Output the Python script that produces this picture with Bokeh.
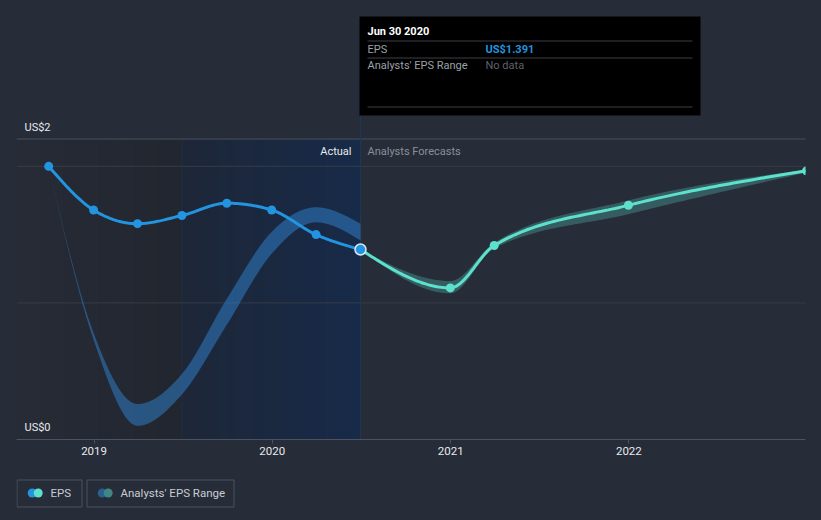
import numpy as np
import pandas as pd
from bokeh.plotting import figure
from bokeh.layouts import column
from bokeh.models import Range1d, FixedTicker, DatetimeTickFormatter
from bokeh.core.properties import value
from bokeh.embed import file_html
from bokeh.resources import INLINE

# ---------------- data ----------------
actual_dates = ["2018-09-30", "2018-12-31", "2019-03-31", "2019-06-30",
                "2019-09-30", "2019-12-31", "2020-03-31", "2020-06-30"]
actual_eps = [2.00, 1.68, 1.58, 1.64, 1.73, 1.68, 1.50, 1.391]
past_range_low = [2.00, 0.73, 0.10, 0.33, 0.84, 1.36, 1.59, 1.457]
past_range_high = [2.00, 0.78, 0.26, 0.48, 1.03, 1.52, 1.70, 1.58]

forecast_dates = ["2020-06-30", "2020-12-31", "2021-03-31", "2021-12-31", "2022-12-31"]
forecast_eps = [1.391, 1.11, 1.42, 1.715, 1.967]
forecast_low = [1.391, 1.07, 1.40, 1.65, 1.955]
forecast_high = [1.391, 1.16, 1.44, 1.75, 1.975]

year_ticks = ["2019-01-01", "2020-01-01", "2021-01-01", "2022-01-01"]
y_label_values = [0, 2]
y_label_texts = ["US$0", "US$2"]
grid_values = [1.0, 2.0]
top_line_value = 2.2

x_start, x_end = "2018-07-26", "2022-12-29"
past_split = "2019-06-30"
last_actual = "2020-06-30"

# ---------------- style ----------------
BG = "#262c38"
BLUE = "#2394df"
TEAL = "#5de0cc"
FONT = "Roboto"
FS = "11px"
W, H_MAIN, H_LEG = 821, 472, 48
FL, FR, FB = 16, 16, 33
FW = W - FL - FR
FH = H_MAIN - FB
Y_TOP = 3.214
BG_STYLE = {"background-color": BG}


def ms(d):
    if isinstance(d, str):
        return pd.Timestamp(d).value / 1e6
    return np.array([pd.Timestamp(v).value / 1e6 for v in d])


X0, X1 = ms(x_start), ms(x_end)
PX_MS = (X1 - X0) / FW  # one screen pixel in ms


def px_x(px):
    return X0 + (px - FL) / FW * (X1 - X0)


def px_y(py):
    return (FH - py) / FH * Y_TOP


def monotone(xs, ys, n=40):
    xs = np.asarray(xs, float)
    ys = np.asarray(ys, float)
    h = np.diff(xs)
    s = np.diff(ys) / h
    m = np.zeros(len(xs))
    for i in range(1, len(xs) - 1):
        s0, s1 = s[i - 1], s[i]
        p_ = (s0 * h[i] + s1 * h[i - 1]) / (h[i - 1] + h[i])
        m[i] = (np.sign(s0) + np.sign(s1)) * min(abs(s0), abs(s1), 0.5 * abs(p_))
    if len(xs) > 2:
        m[0] = (3 * s[0] - m[1]) / 2
        m[-1] = (3 * s[-1] - m[-2]) / 2
    else:
        m[0] = m[-1] = s[0]
    ox, oy = [], []
    for i in range(len(xs) - 1):
        t = np.linspace(0, 1, n, endpoint=(i == len(xs) - 2))
        h00 = 2 * t**3 - 3 * t**2 + 1
        h10 = t**3 - 2 * t**2 + t
        h01 = -2 * t**3 + 3 * t**2
        h11 = t**3 - t**2
        ox.append(xs[i] + t * h[i])
        oy.append(h00 * ys[i] + h10 * h[i] * m[i] + h01 * ys[i + 1] + h11 * h[i] * m[i + 1])
    return np.concatenate(ox), np.concatenate(oy)


def mix(c0, c1, f):
    return "#%02x%02x%02x" % tuple(int(round(a + (b - a) * f)) for a, b in zip(c0, c1))


# ---------------- main figure ----------------
p = figure(width=W, height=H_MAIN, x_axis_type="datetime",
           x_range=Range1d(X0, X1), y_range=Range1d(0, Y_TOP),
           y_axis_location=None, toolbar_location=None, output_backend="svg",
           min_border_left=FL, min_border_right=FR, min_border_top=0, min_border_bottom=FB,
           background_fill_color=BG, border_fill_color=BG, outline_line_color=None,
           styles=BG_STYLE)
p.grid.visible = False

# shaded past regions (gradient stripes, slightly overlapping to avoid seams)
n1 = 14
edges = np.linspace(X0, ms(past_split), n1 + 1)
right1 = np.minimum(edges[1:] + 1.5 * PX_MS, ms(past_split))
p.quad(left=edges[:-1], right=right1, bottom=0, top=top_line_value,
       fill_color=[mix((38, 43, 54), (34, 38, 47), i / (n1 - 1)) for i in range(n1)],
       line_color=None)
n2 = 20
edges = np.linspace(ms(past_split), ms(last_actual), n2 + 1)
right2 = np.minimum(edges[1:] + 1.5 * PX_MS, ms(last_actual))
p.quad(left=edges[:-1], right=right2, bottom=0, top=top_line_value,
       fill_color=[mix((29, 39, 56), (23, 42, 72), i / (n2 - 1)) for i in range(n2)],
       line_color=None)
p.segment(x0=[ms(past_split)], x1=[ms(past_split)], y0=[0], y1=[top_line_value],
          line_color="#222e42", line_width=1)

# grid lines
p.segment(x0=[X0] * len(grid_values), x1=[X1] * len(grid_values), y0=grid_values, y1=grid_values,
          line_color="#363c48", line_width=1)
p.segment(x0=[X0], x1=[X1], y0=[top_line_value], y1=[top_line_value],
          line_color="#4a505b", line_width=1)

# crosshair
p.segment(x0=[ms(last_actual)], x1=[ms(last_actual)], y0=[0], y1=[px_y(115)],
          line_color="#213655", line_width=1.2)

# analysts' range bands
bx, blo = monotone(ms(actual_dates), past_range_low)
_, bhi = monotone(ms(actual_dates), past_range_high)
p.varea(x=bx, y1=blo, y2=bhi, fill_color="#2f7bc4", fill_alpha=0.55)

fx, flo = monotone(ms(forecast_dates), forecast_low)
_, fhi = monotone(ms(forecast_dates), forecast_high)
p.varea(x=fx, y1=flo, y2=fhi, fill_color=TEAL, fill_alpha=0.28)

# EPS lines
ax, ay = monotone(ms(actual_dates), actual_eps)
p.line(ax, ay, line_color=BLUE, line_width=3)
gx, gy = monotone(ms(forecast_dates), forecast_eps)
p.line(gx, gy, line_color=TEAL, line_width=3)

p.scatter(ms(actual_dates[:-1]), actual_eps[:-1], size=9, fill_color=BLUE, line_color=None)
p.scatter(ms(forecast_dates[1:]), forecast_eps[1:], size=9, fill_color=TEAL, line_color=None)
p.scatter([ms(actual_dates[-1])], [actual_eps[-1]], size=11, fill_color=BLUE,
          line_color="#dce8f5", line_width=1.5)

# region labels
p.text(x=[px_x(351)], y=[px_y(151)], text=["Actual"], text_align="right", text_baseline="middle",
       text_font=value(FONT), text_font_size=FS, text_color="#e8eaed")
p.text(x=[px_x(367)], y=[px_y(151)], text=["Analysts Forecasts"], text_align="left",
       text_baseline="middle", text_font=value(FONT), text_font_size=FS, text_color="#8a9099")

# y labels (placed just above their reference lines)
label_y = [v if v != max(y_label_values) else top_line_value for v in y_label_values]
p.text(x=[px_x(24)] * len(label_y), y=[v + 12 / FH * Y_TOP for v in label_y],
       text=y_label_texts, text_align="left", text_baseline="middle",
       text_font=value(FONT), text_font_size=FS, text_color="#e8eaed")

# tooltip
p.quad(left=[px_x(359)], right=[px_x(700)], top=[px_y(16)], bottom=[px_y(115)],
       fill_color="#000000", line_color=None)
sep = [px_y(40.5), px_y(57.5), px_y(106.5)]
p.segment(x0=[px_x(367)] * 3, x1=[px_x(692)] * 3, y0=sep, y1=sep,
          line_color="#3c3f44", line_width=1)
p.text(x=[px_x(367)], y=[px_y(31)], text=["Jun 30 2020"], text_baseline="middle",
       text_font=value(FONT), text_font_size=FS, text_font_style="bold", text_color="#ffffff")
p.text(x=[px_x(367)] * 2, y=[px_y(48.5), px_y(65)], text=["EPS", "Analysts' EPS Range"],
       text_baseline="middle", text_font=value(FONT), text_font_size=FS, text_color="#9ca1a8")
p.text(x=[px_x(485)], y=[px_y(48.5)], text=["US$%.3f" % actual_eps[-1]], text_baseline="middle",
       text_font=value(FONT), text_font_size=FS, text_font_style="bold", text_color=BLUE)
p.text(x=[px_x(485)], y=[px_y(65)], text=["No data"], text_baseline="middle",
       text_font=value(FONT), text_font_size=FS, text_color="#5e6269")

# x axis
p.xaxis.ticker = FixedTicker(ticks=list(ms(year_ticks)))
fmt = "%Y"
p.xaxis.formatter = DatetimeTickFormatter(microseconds=fmt, milliseconds=fmt, seconds=fmt,
                                          minsec=fmt, minutes=fmt, hourmin=fmt, hours=fmt,
                                          days=fmt, months=fmt, years=fmt)
p.xaxis.axis_line_color = "#4c525e"
p.xaxis.major_tick_line_color = "#4c525e"
p.xaxis.major_tick_out = 4
p.xaxis.major_tick_in = 0
p.xaxis.minor_tick_line_color = None
p.xaxis.major_label_standoff = 3
p.xaxis.major_label_text_font = FONT
p.xaxis.major_label_text_font_size = "11.5px"
p.xaxis.major_label_text_color = "#e8eaed"

# ---------------- legend figure ----------------
lg = figure(width=W, height=H_LEG, x_range=Range1d(FL, W - FR), y_range=Range1d(H_LEG, 0),
            x_axis_location=None, y_axis_location=None, toolbar_location=None,
            output_backend="svg", min_border_left=FL, min_border_right=FR,
            min_border_top=0, min_border_bottom=0,
            background_fill_color=BG, border_fill_color=BG, outline_line_color=None,
            styles=BG_STYLE)
lg.grid.visible = False
lg.quad(left=[16.5, 86.5], right=[81.5, 233.5], top=[7.5, 7.5], bottom=[34.5, 34.5],
        fill_color=None, line_color="#4a505d", line_width=1)
lg.scatter([31.7, 101.7], [20.5, 20.5], size=9, fill_color=[BLUE, "#2a5f90"], line_color=None)
lg.scatter([37.7, 107.7], [20.5, 20.5], size=9, fill_color=[TEAL, "#3f8684"], line_color=None)
lg.text(x=[50, 120], y=[20.5, 20.5], text=["EPS", "Analysts' EPS Range"], text_baseline="middle",
        text_font=value(FONT), text_font_size="11.5px", text_color="#c9ccd2")

layout = column(p, lg, spacing=0, styles=BG_STYLE)
open("out.html", "w").write(file_html(layout, INLINE))
